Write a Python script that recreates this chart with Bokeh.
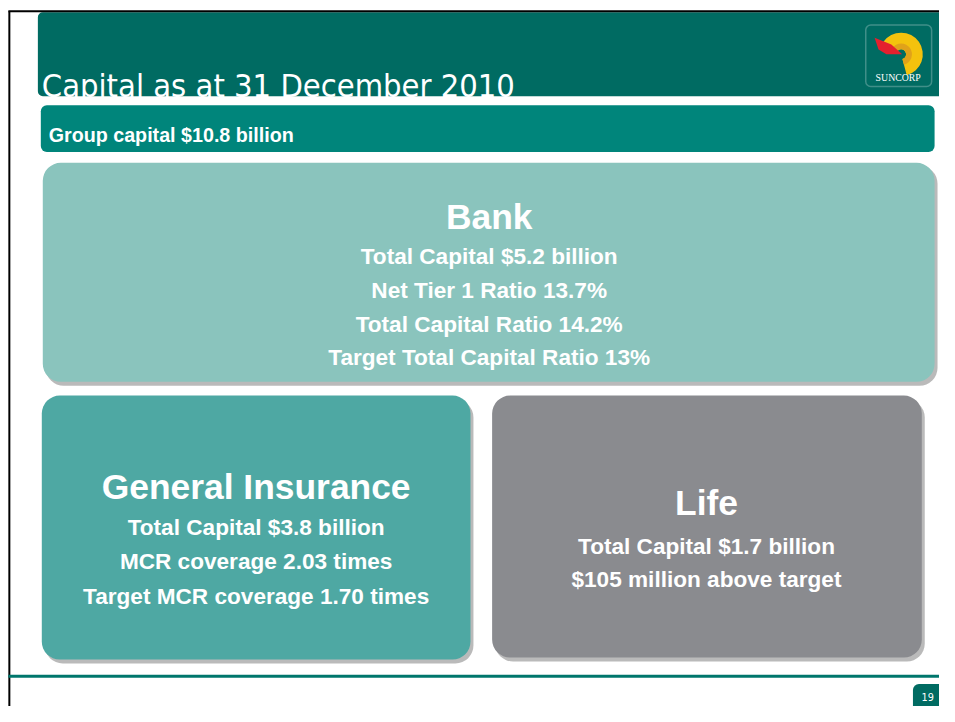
from bokeh.plotting import figure
from bokeh.models import Range1d, BoxAnnotation, ColumnDataSource
from bokeh.core.properties import value
from bokeh.embed import file_html
from bokeh.resources import INLINE

# ---- content ----
slide_title = "Capital as at 31 December 2010"
group_label = "Group capital $10.8 billion"
panel_titles = ["Bank", "General Insurance", "Life"]
bank_lines = ["Total Capital $5.2 billion", "Net Tier 1 Ratio 13.7%",
              "Total Capital Ratio 14.2%", "Target Total Capital Ratio 13%"]
gi_lines = ["Total Capital $3.8 billion", "MCR coverage 2.03 times",
            "Target MCR coverage 1.70 times"]
life_lines = ["Total Capital $1.7 billion", "$105 million above target"]
page_number = "19"
logo_text = "SUNCORP"

# ---- colours ----
C_HEAD = "#006B62"
C_GROUP = "#00857B"
C_BANK = "#8AC4BD"
C_GI = "#4EA8A3"
C_LIFE = "#8A8B8F"
C_SHADOW = "#9C9C9C"

W, H = 939, 706
S = W / 955.0  # font scale so the canvas maps onto the 955x722 slide


def fs(px):
    return "%.1fpx" % (px * S)


p = figure(width=W, height=H, x_range=Range1d(0, 955), y_range=Range1d(722, 0),
           output_backend="svg", toolbar_location=None, min_border=0)
p.xaxis.visible = False
p.yaxis.visible = False
p.grid.visible = False
p.outline_line_color = None
p.background_fill_color = "white"
p.border_fill_color = "white"


def box(l, r, t, b, color, radius, alpha=1.0, line=None, lw=1):
    ba = BoxAnnotation(left=l, right=r, top=t, bottom=b, fill_color=color,
                       fill_alpha=alpha if color else 0, line_color=line,
                       line_width=lw, border_radius=radius, level="underlay",
                       editable=False)
    p.add_layout(ba)


# header and bars
box(38, 990, 12, 98, C_HEAD, 5)
box(41, 950, 107, 155, C_GROUP, 6)
# shadows
box(46, 953, 169, 394, C_SHADOW, 18, alpha=0.7)
box(45, 481, 408, 678, C_SHADOW, 18, alpha=0.7)
box(503, 940, 408, 676, C_SHADOW, 18, alpha=0.7)
# panels
box(43, 950, 166, 390, C_BANK, 18)
box(42, 478, 404, 674, C_GI, 18)
box(500, 937, 404, 672, C_LIFE, 18)
# page number tab
box(928, 990, 699, 740, C_HEAD, 6)
# logo frame
box(880, 947, 25, 88, None, 5, line="#D5E6E3", lw=1.5)

# border lines
p.segment(x0=[8, 9], y0=[11, 11], x1=[960, 9], y1=[11, 730], line_color="black", line_width=2)
p.segment(x0=[8], y0=[691], x1=[960], y1=[691], line_color="#00766C", line_width=3)

# logo
p.annular_wedge(x=[916], y=[55], inner_radius=5, outer_radius=22,
                start_angle=-75, end_angle=145, start_angle_units="deg", end_angle_units="deg",
                fill_color="#F4C20D", line_color=None)
p.annular_wedge(x=[916], y=[55], inner_radius=5, outer_radius=11,
                start_angle=-75, end_angle=145, start_angle_units="deg", end_angle_units="deg",
                fill_color="#E0A21A", line_color=None)
p.patch(x=[889, 893, 901, 917, 906], y=[38, 50, 55, 55, 45], fill_color="#E4202E", line_color=None)
p.text(x=[913], y=[79], text=[logo_text], text_align="center", text_baseline="alphabetic",
       text_font=value("Liberation Serif"), text_font_size=fs(10), text_color="white")

# title
p.text(x=[42], y=[87], text=[slide_title], text_align="left", text_baseline="alphabetic",
       text_font=value("'Liberation Sans Narrow', 'DejaVu Sans Condensed', 'Open Sans'"),
       text_font_size=fs(33), text_color="white")

bold = dict(text_baseline="alphabetic", text_font=value("Liberation Sans"),
            text_font_style="bold", text_color="white")

p.text(x=[49], y=[138], text=[group_label], text_align="left", text_font_size=fs(20), **bold)

# panel titles
p.text(x=[497, 260, 718], y=[221, 498, 514], text=panel_titles, text_align="center",
       text_font_size=fs(36), **bold)

# panel lines
bank_src = ColumnDataSource(dict(x=[497] * len(bank_lines), y=[262, 297, 331, 365], t=bank_lines))
gi_src = ColumnDataSource(dict(x=[260] * len(gi_lines), y=[539, 574, 609], t=gi_lines))
life_src = ColumnDataSource(dict(x=[718] * len(life_lines), y=[558, 592], t=life_lines))
for src in (bank_src, gi_src, life_src):
    p.text(x="x", y="y", text="t", source=src, text_align="center", text_font_size=fs(23), **bold)

# page number
p.text(x=[943], y=[712], text=[page_number], text_align="center", text_baseline="alphabetic",
       text_font=value("'Liberation Sans Narrow', 'DejaVu Sans Condensed'"),
       text_font_size=fs(11), text_color="white")

open("out.html", "w").write(file_html(p, INLINE))
